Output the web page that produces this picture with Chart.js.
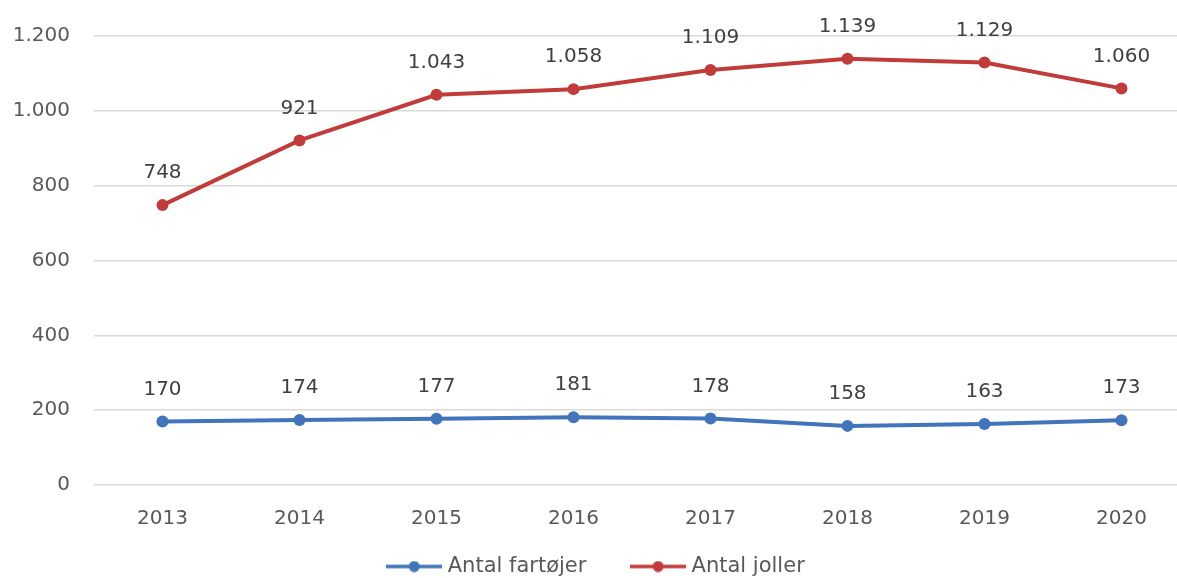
<!DOCTYPE html>
<html>
<head>
<meta charset="utf-8">
<script src="https://cdn.jsdelivr.net/npm/chart.js@4"></script>
<style>
  html, body { margin: 0; padding: 0; background: #fff; overflow: hidden; }
  #wrap { width: 1196px; height: 578px; }
</style>
</head>
<body>
<div id="wrap"><canvas id="chart"></canvas></div>
<script>
const years = ['2013', '2014', '2015', '2016', '2017', '2018', '2019', '2020'];
const fartojer = [170, 174, 177, 181, 178, 158, 163, 173];
const joller = [748, 921, 1043, 1058, 1109, 1139, 1129, 1060];
const yTicks = [0, 200, 400, 600, 800, 1000, 1200];

const BLUE = '#4174bb';
const RED = '#c23b3b';
const FONT = "'DejaVu Sans', sans-serif";

function fmt(v) {
  return String(v).replace(/\B(?=(\d{3})+(?!\d))/g, '.');
}

// legend marker: short line with a dot in the middle
function legendMarker(color) {
  const c = document.createElement('canvas');
  c.width = 56; c.height = 12;
  const g = c.getContext('2d');
  g.strokeStyle = color;
  g.lineWidth = 3.5;
  g.beginPath(); g.moveTo(0, 6); g.lineTo(56, 6); g.stroke();
  g.fillStyle = color;
  g.beginPath(); g.arc(28, 6, 5.5, 0, Math.PI * 2); g.fill();
  return c;
}

const valueLabels = {
  id: 'valueLabels',
  afterDatasetsDraw(chart) {
    const ctx = chart.ctx;
    ctx.save();
    ctx.font = '20px ' + FONT;
    ctx.fillStyle = '#404040';
    ctx.textAlign = 'center';
    ctx.textBaseline = 'middle';
    chart.data.datasets.forEach((ds, i) => {
      chart.getDatasetMeta(i).data.forEach((pt, j) => {
        ctx.fillText(fmt(ds.data[j]), pt.x, pt.y - 32);
      });
    });
    ctx.restore();
  }
};

new Chart(document.getElementById('chart'), {
  type: 'line',
  data: {
    labels: years,
    datasets: [
      {
        label: 'Antal fartøjer',
        data: fartojer,
        borderColor: BLUE,
        backgroundColor: BLUE,
        borderWidth: 4,
        pointRadius: 6,
        pointBorderWidth: 0,
        pointStyle: 'circle',
        tension: 0
      },
      {
        label: 'Antal joller',
        data: joller,
        borderColor: RED,
        backgroundColor: RED,
        borderWidth: 4,
        pointRadius: 6,
        pointBorderWidth: 0,
        pointStyle: 'circle',
        tension: 0
      }
    ]
  },
  options: {
    responsive: true,
    maintainAspectRatio: false,
    animation: false,
    layout: { padding: { top: 34, right: 0, left: 0, bottom: -9 } },
    plugins: {
      tooltip: { enabled: false },
      legend: {
        position: 'bottom',
        labels: {
          usePointStyle: true,
          pointStyleWidth: 46,
          color: '#595959',
          font: { family: FONT, size: 21 },
          padding: 0,
          generateLabels(chart) {
            return chart.data.datasets.map((ds, i) => ({
              text: ds.label + (i === 0 ? '\u2003\u2003 ' : ''),
              pointStyle: legendMarker(ds.borderColor),
              fillStyle: ds.borderColor,
              strokeStyle: ds.borderColor,
              lineWidth: 0,
              fontColor: '#595959',
              datasetIndex: i
            }));
          }
        }
      }
    },
    scales: {
      x: {
        offset: true,
        grid: { display: false },
        border: { display: false },
        afterFit(axis) { axis.height = 71; },
        ticks: { color: '#595959', font: { family: FONT, size: 20 }, padding: 14 }
      },
      y: {
        min: 0,
        max: 1200,
        afterBuildTicks(axis) { axis.ticks = yTicks.map(v => ({ value: v })); },
        afterFit(axis) { axis.width = 94; },
        grid: { color: '#d9d9d9', lineWidth: 1.5, drawTicks: false },
        border: { display: false },
        ticks: { color: '#595959', font: { family: FONT, size: 20 }, padding: 24, callback: v => fmt(v) }
      }
    }
  },
  plugins: [valueLabels]
});
</script>
</body>
</html>
